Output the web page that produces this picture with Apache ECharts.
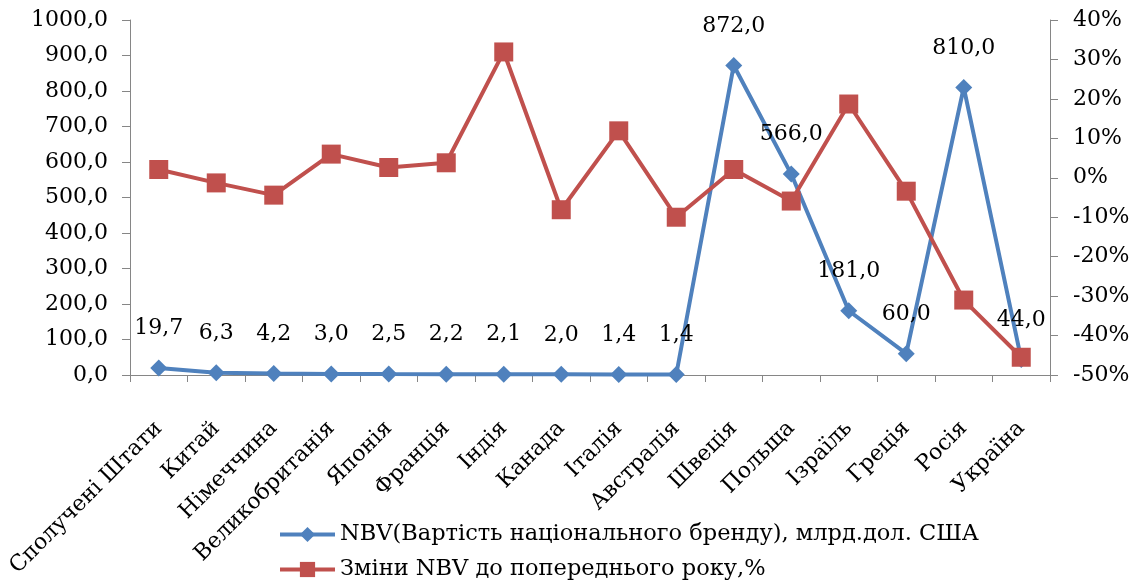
<!DOCTYPE html>
<html><head><meta charset="utf-8">
<script src="https://cdn.jsdelivr.net/npm/echarts@6/dist/echarts.min.js"></script>
<style>html,body{margin:0;padding:0;background:#fff}#c{width:1146px;height:580px}</style>
</head><body><div id="c"></div>
<script>
const categories = ['Сполучені Штати','Китай','Німеччина','Великобританія','Японія','Франція','Індія','Канада','Італія','Австралія','Швеція','Польща','Ізраїль','Греція','Росія','Україна'];
const nbvValues = [19.7, 6.3, 4.2, 3.0, 2.5, 2.2, 2.1, 2.0, 1.4, 1.4, 872.0, 566.0, 181.0, 60.0, 810.0, 44.0];
const changeValues = [2.1, -1.3, -4.4, 6.0, 2.6, 3.8, 31.9, -8.1, 11.9, -10.0, 2.1, -5.9, 18.7, -3.4, -31.0, -45.5];
const seriesNames = ['NBV(Вартість національного бренду), млрд.дол. США', 'Зміни NBV до попереднього року,%'];

const font = 'DejaVu Serif';
const axisColor = '#868686';
const legendBase = {
  orient: 'horizontal', left: 278, padding: 0,
  itemWidth: 55, itemHeight: 19,
  lineStyle: {width: 4},
  textStyle: {fontFamily: font, fontSize: 22.5, color: '#000'}
};
const chart = echarts.init(document.getElementById('c'));
chart.setOption({
  animation: false,
  textStyle: {fontFamily: font, color: '#000'},
  grid: {left: 130, right: 96, top: 20, bottom: 205},
  legend: [
    Object.assign({}, legendBase, {top: 523, data: [seriesNames[0]]}),
    Object.assign({}, legendBase, {top: 558, data: [seriesNames[1]]})
  ],
  xAxis: {
    type: 'category', data: categories, boundaryGap: true,
    axisLine: {lineStyle: {color: axisColor, width: 1}},
    axisTick: {show: true, length: 7, inside: false, alignWithLabel: false, lineStyle: {color: axisColor}},
    axisLabel: {rotate: 45, interval: 0, fontFamily: font, fontSize: 22, color: '#000', margin: 50}
  },
  yAxis: [
    {
      type: 'value', min: 0, max: 1000, interval: 100, position: 'left',
      splitLine: {show: false},
      axisLine: {show: true, lineStyle: {color: axisColor}},
      axisTick: {show: true, length: 8, lineStyle: {color: axisColor}},
      axisLabel: {fontFamily: font, fontSize: 22, color: '#000', margin: 22,
        formatter: v => v.toFixed(1).replace('.', ',')}
    },
    {
      type: 'value', min: -50, max: 40, interval: 10, position: 'right',
      splitLine: {show: false},
      axisLine: {show: true, lineStyle: {color: axisColor}},
      axisTick: {show: true, length: 8, lineStyle: {color: axisColor}},
      axisLabel: {fontFamily: font, fontSize: 22, color: '#000', margin: 23,
        formatter: v => v + '%'}
    }
  ],
  series: [
    {
      name: seriesNames[0], type: 'line', yAxisIndex: 0, data: nbvValues,
      symbol: 'diamond', symbolSize: 17, z: 2,
      lineStyle: {color: '#4F81BD', width: 4},
      itemStyle: {color: '#4F81BD'},
      label: {show: true, position: 'top', distance: 20, fontFamily: font, fontSize: 22, color: '#000',
        formatter: p => p.value.toFixed(1).replace('.', ',')}
    },
    {
      name: seriesNames[1], type: 'line', yAxisIndex: 1, data: changeValues,
      symbol: 'rect', symbolSize: 19, z: 3,
      lineStyle: {color: '#C0504D', width: 4},
      itemStyle: {color: '#C0504D'}
    }
  ]
});
</script></body></html>
